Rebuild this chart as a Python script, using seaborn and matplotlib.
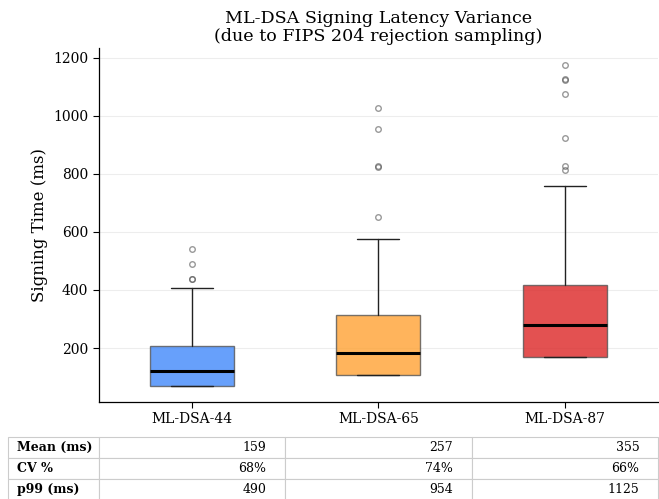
import matplotlib
matplotlib.use("Agg")
import matplotlib.pyplot as plt
import seaborn as sns

# summary stats (ms)
variants = ["ML-DSA-44", "ML-DSA-65", "ML-DSA-87"]
box_low = [70, 107, 168]        # q1 (= lower whisker)
medians = [121, 184, 279]
box_high = [208, 313, 417]      # q3
whisk_high = [408, 576, 760]
outliers = [
    [437, 438, 489, 541],
    [653, 824, 826, 954, 1028],
    [814, 826, 925, 1076, 1124, 1126, 1175],
]
colors = ["#4189fb", "#ffa233", "#dc2626"]

row_labels = ["Mean (ms)", "CV %", "p99 (ms)"]
mean_ms = [159, 257, 355]
cv_pct = ["68%", "74%", "66%"]
p99_ms = [490, 954, 1125]

sns.set_style("white")
plt.rcParams["font.family"] = ["DejaVu Serif"]
plt.rcParams["text.color"] = "black"
plt.rcParams["axes.labelcolor"] = "black"
plt.rcParams["xtick.color"] = "black"
plt.rcParams["ytick.color"] = "black"

fig = plt.figure(figsize=(6.59, 4.99), dpi=100)
ax = fig.add_axes([0.150, 0.1944, 0.8485, 0.7094])

stats = []
for i, name in enumerate(variants):
    stats.append({
        "label": name,
        "whislo": box_low[i], "q1": box_low[i], "med": medians[i],
        "q3": box_high[i], "whishi": whisk_high[i], "fliers": outliers[i],
    })

bp = ax.bxp(stats, widths=0.45, patch_artist=True,
            boxprops=dict(edgecolor="#555555", linewidth=1),
            medianprops=dict(color="black", linewidth=2.2),
            whiskerprops=dict(color="#222222", linewidth=1),
            capprops=dict(color="#222222", linewidth=1),
            flierprops=dict(marker="o", markersize=4, markerfacecolor="none",
                            markeredgecolor="#555555", alpha=0.6))
for patch, c in zip(bp["boxes"], colors):
    patch.set_facecolor(c)
    patch.set_alpha(0.8)

ax.set_xlim(0.5, 3.5)
ax.set_ylim(14, 1234)
ax.set_yticks([200, 400, 600, 800, 1000, 1200])
ax.yaxis.grid(True, color="#e6e6e6", linewidth=0.8, alpha=0.7)
ax.set_axisbelow(True)
ax.tick_params(axis="both", labelsize=10, length=4, left=True, bottom=True)
ax.set_ylabel("Signing Time (ms)", fontsize=12)
ax.set_title("ML-DSA Signing Latency Variance\n(due to FIPS 204 rejection sampling)",
             fontsize=12.6, linespacing=1.1, pad=5)
sns.despine(ax=ax)
for s in ["left", "bottom"]:
    ax.spines[s].set_color("black")
    ax.spines[s].set_linewidth(0.9)

cell_text = [[str(v) for v in mean_ms], cv_pct, [str(v) for v in p99_ms]]
tbl = ax.table(cellText=cell_text, rowLabels=row_labels, cellLoc="right",
               rowLoc="left", bbox=[0, -0.2768, 1, 0.178])
tbl.auto_set_font_size(False)
tbl.set_fontsize(9)
for (r, c), cell in tbl.get_celld().items():
    cell.set_edgecolor("#cccccc")
    cell.set_linewidth(0.8)
    if c == -1:
        cell.get_text().set_fontweight("bold")

fig.savefig("out.png", dpi=100)
